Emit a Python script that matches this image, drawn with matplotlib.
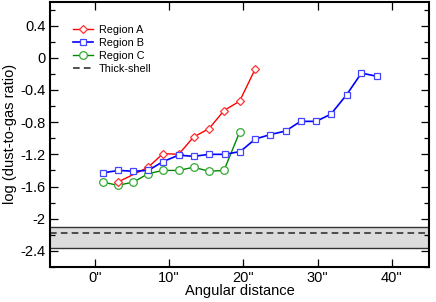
import numpy as np
import matplotlib
matplotlib.use("Agg")
import matplotlib.pyplot as plt
from matplotlib.ticker import MultipleLocator

plt.rcParams['font.family'] = ['Liberation Sans', 'DejaVu Sans']

# region A (red diamonds)
xa = [3.1, 7.2, 9.2, 11.3, 13.3, 15.4, 17.4, 19.5, 21.6]
ya = [-1.545, -1.36, -1.19, -1.20, -0.985, -0.88, -0.655, -0.54, -0.14]
# region B (blue squares)
xb = [1.1, 3.2, 5.2, 7.2, 9.2, 11.3, 13.3, 15.4, 17.5, 19.6, 21.6, 23.6, 25.7, 27.7, 29.8, 31.8, 33.9, 35.9, 38.0]
yb = [-1.43, -1.40, -1.41, -1.40, -1.29, -1.21, -1.225, -1.20, -1.20, -1.165, -1.01, -0.955, -0.91, -0.79, -0.79, -0.70, -0.46, -0.19, -0.23]
# region C (green circles)
xc = [1.1, 3.1, 5.2, 7.2, 9.2, 11.3, 13.3, 15.4, 17.4, 19.5]
yc = [-1.545, -1.585, -1.545, -1.44, -1.40, -1.40, -1.36, -1.41, -1.40, -0.925]

shell = -2.18
shell_lo, shell_hi = -2.36, -2.10

xticks = [0, 10, 20, 30, 40]
xlabels = ['0"', '10"', '20"', '30"', '40"']
yticks = [0.4, 0, -0.4, -0.8, -1.2, -1.6, -2, -2.4]
ylabels = ['0.4', '0', '-0.4', '-0.8', '-1.2', '-1.6', '-2', '-2.4']

fig = plt.figure(figsize=(4.36, 3.02), dpi=100)
ax = fig.add_axes([0.115, 0.116, 0.869, 0.879])

ax.axhspan(shell_lo, shell_hi, facecolor='#dcdcdc', edgecolor='none', zorder=0)
ax.axhline(shell_lo, color='#333333', lw=1.0, zorder=1)
ax.axhline(shell_hi, color='#333333', lw=1.0, zorder=1)
ax.axhline(shell, color='#333333', lw=1.2, ls=(0, (4, 2.5)), zorder=1, label='Thick-shell')

ms = 5
ax.plot(xa, ya, color='#ff0000', lw=1.0, marker='D', ms=ms - 0.8, mfc='white',
        mec='#ff3333', mew=0.9, label='Region A', zorder=3)
ax.plot(xb, yb, color='#0000ff', lw=1.2, marker='s', ms=ms, mfc='white',
        mec='#4444ff', mew=0.9, label='Region B', zorder=4)
ax.plot(xc, yc, color='#008800', lw=1.0, marker='o', ms=ms + 0.5, mfc='white',
        mec='#33aa33', mew=0.9, label='Region C', zorder=2)

ax.set_xlim(-6, 45)
ax.set_ylim(-2.6, 0.7)
ax.set_xticks(xticks)
ax.set_xticklabels(xlabels)
ax.set_yticks(yticks)
ax.set_yticklabels(ylabels)
ax.yaxis.set_minor_locator(MultipleLocator(0.2))
ax.tick_params(which='both', direction='in', top=True, right=True, labelsize=10.5, width=0.9)
ax.tick_params(which='major', length=6)
ax.tick_params(which='minor', length=3.5)
ax.tick_params(axis='x', pad=3)
for s in ax.spines.values():
    s.set_linewidth(1.5)

ax.set_xlabel('Angular distance', fontsize=10.5, labelpad=-1)
ax.set_ylabel('log (dust-to-gas ratio)', fontsize=10.5, labelpad=2)

h, l = ax.get_legend_handles_labels()
order = [1, 2, 3, 0]
ax.legend([h[i] for i in order], [l[i] for i in order], loc='upper left',
          bbox_to_anchor=(0.035, 0.95), frameon=False, fontsize=7.8,
          handlelength=1.8, handletextpad=0.6, labelspacing=0.3)

fig.savefig('out.png', dpi=100)
